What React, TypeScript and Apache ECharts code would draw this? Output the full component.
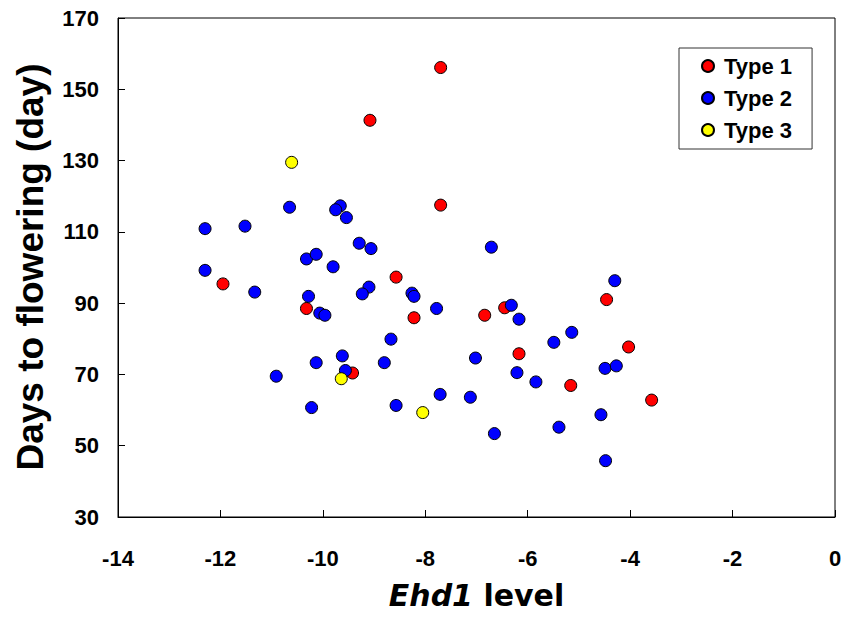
import React, { useEffect, useRef } from "react";
import * as echarts from "echarts";

const type1: [number, number][] = [
  [-7.7, 156.1], [-9.08, 141.3], [-7.7, 117.5], [-11.95, 95.4], [-8.57, 97.3],
  [-10.32, 88.5], [-8.22, 85.9], [-9.42, 70.4], [-4.46, 91.0], [-6.84, 86.6],
  [-6.45, 88.7], [-4.03, 77.7], [-6.17, 75.8], [-5.16, 66.9], [-3.58, 62.8],
];

const type2: [number, number][] = [
  [-10.65, 116.9], [-9.66, 117.3], [-9.75, 116.2], [-9.54, 114.0], [-12.3, 110.9],
  [-11.52, 111.6], [-9.29, 106.8], [-9.06, 105.3], [-10.32, 102.4], [-10.13, 103.7],
  [-9.8, 100.2], [-12.3, 99.2], [-6.71, 105.7], [-11.33, 93.1], [-10.28, 91.9],
  [-10.06, 87.2], [-9.96, 86.6], [-9.1, 94.5], [-9.23, 92.6], [-8.26, 92.8],
  [-8.22, 91.9], [-7.78, 88.5], [-7.02, 74.6], [-8.67, 79.9], [-9.62, 75.2],
  [-10.13, 73.3], [-8.8, 73.3], [-9.56, 71.1], [-10.91, 69.5], [-10.22, 60.7],
  [-8.57, 61.3], [-7.71, 64.4], [-7.12, 63.6], [-4.3, 96.3], [-6.32, 89.4],
  [-6.17, 85.5], [-5.14, 81.8], [-5.49, 79.0], [-6.21, 70.5], [-5.84, 67.9],
  [-4.49, 71.7], [-4.27, 72.4], [-6.65, 53.4], [-5.39, 55.2], [-4.57, 58.7],
  [-4.48, 45.8],
];

const type3: [number, number][] = [
  [-10.61, 129.5], [-9.64, 68.8], [-8.05, 59.3],
];

const seriesNames = ["Type 1", "Type 2", "Type 3"];
const seriesColors = ["#FF0000", "#0000FF", "#FFFF00"];

const xMin = -14, xMax = 0, xStep = 2;
const yMin = 30, yMax = 170, yStep = 20;

const yTitle = "Days to flowering (day)";
const sans = '"Liberation Sans", Arial, sans-serif';

export default function App() {
  const ref = useRef<HTMLDivElement>(null);
  useEffect(() => {
    document.body.style.margin = "0";
    const chart = echarts.init(ref.current!, null, { renderer: "svg" });
    const datasets = [type1, type2, type3];
    chart.setOption({
      animation: false,
      backgroundColor: "#ffffff",
      grid: {
        left: 118, top: 18, right: 10, bottom: 104,
        outerBoundsMode: "none",
        containLabel: false,
        show: true, borderColor: "#000", borderWidth: 1, backgroundColor: "transparent",
      },
      legend: {
        orient: "vertical",
        left: 679, top: 48,
        padding: [7, 20, 8, 22],
        borderColor: "#333", borderWidth: 1,
        itemWidth: 12, itemHeight: 12, itemGap: 10,
        icon: "circle",
        data: seriesNames,
        textStyle: {
          fontFamily: sans,
          fontWeight: "bold", fontSize: 22, color: "#000",
          padding: [0, 0, 0, 5], lineHeight: 22,
        },
      },
      graphic: [
        {
          type: "text",
          x: 30, y: 267,
          rotation: Math.PI / 2,
          silent: true,
          style: {
            text: yTitle,
            fontFamily: sans, fontWeight: "bold", fontSize: 37, fill: "#000",
            align: "center", verticalAlign: "middle",
          },
        },
      ],
      xAxis: {
        type: "value", min: xMin, max: xMax, interval: xStep,
        splitLine: { show: false },
        axisLine: { show: true, onZero: false, lineStyle: { color: "#000", width: 1 } },
        axisTick: { show: true, inside: true, length: 7, lineStyle: { color: "#000" } },
        axisLabel: {
          margin: 30, fontFamily: sans, fontWeight: "bold", fontSize: 22, color: "#000",
        },
        name: "{i|Ehd1} level",
        nameLocation: "middle",
        nameGap: 63,
        nameTextStyle: {
          fontFamily: '"DejaVu Sans", sans-serif', fontWeight: "bold", fontSize: 30, color: "#000",
          rich: {
            i: { fontFamily: '"DejaVu Sans", sans-serif', fontWeight: "bold", fontStyle: "italic", fontSize: 30, color: "#000" },
          },
        },
      },
      yAxis: {
        type: "value", min: yMin, max: yMax, interval: yStep,
        splitLine: { show: false },
        axisLine: { show: true, onZero: false, lineStyle: { color: "#000", width: 1 } },
        axisTick: { show: true, inside: true, length: 7, lineStyle: { color: "#000" } },
        axisLabel: {
          margin: 19, fontFamily: sans, fontWeight: "bold", fontSize: 22, color: "#000",
        },
      },
      series: datasets.map((d, i) => ({
        type: "scatter",
        name: seriesNames[i],
        data: d,
        symbol: "circle",
        symbolSize: 12,
        itemStyle: { color: seriesColors[i], borderColor: "#000", borderWidth: 1, opacity: 1 },
        emphasis: { disabled: true },
      })),
    });
    return () => chart.dispose();
  }, []);
  return <div ref={ref} style={{ width: 845, height: 621, position: "absolute", left: 0, top: 0 }} />;
}
